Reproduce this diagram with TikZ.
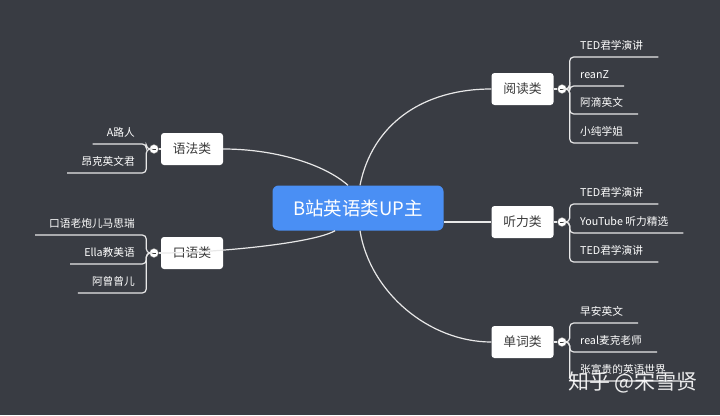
\documentclass[tikz,border=0pt]{standalone}
\usepackage{fontspec}
\setmainfont{Noto Sans CJK SC}
\usetikzlibrary{positioning}
\definecolor{bgdark}{HTML}{393C43}
\definecolor{hubblue}{HTML}{4A8FF4}
\definecolor{inkgray}{HTML}{3A3A3A}
\definecolor{linewhite}{HTML}{E8E8E8}

\begin{document}
\begin{tikzpicture}[x=1pt,y=-1pt]
\tikzset{hub/.style = {shape=rectangle,rounded corners=6pt,fill=hubblue,text=white,minimum width=171pt,minimum height=45pt,font=\fontsize{18.5}{20}\selectfont}}
\tikzset{branch/.style = {shape=rectangle,rounded corners=3pt,fill=white,text=inkgray,minimum width=62pt,minimum height=32pt,font=\fontsize{12.8}{14}\selectfont}}
\tikzset{leaf/.style = {text=white,inner xsep=15pt,inner ysep=5pt,text height=8pt,text depth=2pt,font=\fontsize{10.7}{12}\selectfont}}
\tikzset{fold/.style = {shape=circle,draw=gray,fill=white,minimum size=9pt,inner sep=0pt,
  path picture={\draw[inkgray,line width=0.9pt] ([xshift=-2.2pt]path picture bounding box.center) -- ([xshift=2.2pt]path picture bounding box.center);}}}
\tikzset{edge/.style = {draw=linewhite,line width=1.2pt}}
\tikzset{stem/.style = {draw=linewhite,line width=1.2pt,rounded corners=4pt}}

\fill[bgdark] (0,0) rectangle (720,415);

% main topics
\node[hub] (root) at (358,208) {B站英语类UP主};
\node[branch] (read) at (522.5,89) {阅读类};
\node[branch] (listen) at (522.5,222) {听力类};
\node[branch] (word) at (522.5,342) {单词类};
\node[branch] (gram) at (192,149) {语法类};
\node[branch] (speak) at (192,253) {口语类};

\draw[edge] ([xshift=2pt]root.north) .. controls +(12,-60) and +(-70,0) .. (read.west);
\draw[edge] (root.east |- listen.west) -- (listen.west);
\draw[edge] ([xshift=2pt]root.south) .. controls +(10,62) and +(-62,0) .. (word.west);
\draw[edge] ([xshift=-10pt]root.north) .. controls +(-25,-22) and +(50,0) .. (gram.east);
\draw[edge] ([xshift=-23pt]root.south) .. controls +(-22,13) and +(50,0) .. (speak.west);

% fold marks
\node[fold] (fr) at (562,89) {};
\node[fold] (fl) at (562,222) {};
\node[fold] (fw) at (562,342) {};
\node[fold] (fg) at (154,149) {};
\node[fold] (fs) at (154,253) {};
\draw[edge] (read.east) -- (fr);
\draw[edge] (listen.east) -- (fl);
\draw[edge] (word.east) -- (fw);
\draw[edge] (gram.west) -- (fg);
\draw[edge] (speak.west) -- (fs);

% leaves
\node[leaf,anchor=south west] (r1) at (565,57) {TED君学演讲};
\node[leaf,anchor=south west] (r2) at (565,86) {reanZ};
\node[leaf,anchor=south west] (r3) at (565,114) {阿滴英文};
\node[leaf,anchor=south west] (r4) at (565,143) {小纯学姐};

\node[leaf,anchor=south west] (l1) at (565,204) {TED君学演讲};
\node[leaf,anchor=south west] (l2) at (565,233) {YouTube 听力精选};
\node[leaf,anchor=south west] (l3) at (565,262) {TED君学演讲};

\node[leaf,anchor=south west] (w1) at (565,323) {早安英文};
\node[leaf,anchor=south west] (w2) at (565,352) {real麦克老师};
\node[leaf,anchor=south west] (w3) at (565,381) {张富贵的英语世界};

\node[leaf,anchor=south east,inner xsep=14pt] (g1) at (149,144) {A路人};
\node[leaf,anchor=south east,inner xsep=14pt] (g2) at (149,173) {昂克英文君};

\node[leaf,anchor=south east,inner xsep=14pt] (s1) at (149,235) {口语老炮儿马思瑞};
\node[leaf,anchor=south east,inner xsep=14pt] (s2) at (149,264) {Ella教美语};
\node[leaf,anchor=south east,inner xsep=14pt] (s3) at (149,293) {阿曾曾儿};

\draw[stem] (fr.east) -- ++(3,0) |- (r1.south east);
\draw[stem] (fr.east) -- ++(3,0) |- (r2.south east);
\draw[stem] (fr.east) -- ++(3,0) |- (r3.south east);
\draw[stem] (fr.east) -- ++(3,0) |- (r4.south east);

\draw[stem] (fl.east) -- ++(3,0) |- (l1.south east);
\draw[stem] (fl.east) -- ++(3,0) |- (l2.south east);
\draw[stem] (fl.east) -- ++(3,0) |- (l3.south east);

\draw[stem] (fw.east) -- ++(3,0) |- (w1.south east);
\draw[stem] (fw.east) -- ++(3,0) |- (w2.south east);
\draw[stem] (fw.east) -- ++(3,0) |- (w3.south east);

\draw[stem] (fg.west) -- ++(-3,0) |- (g1.south west);
\draw[stem] (fg.west) -- ++(-3,0) |- (g2.south west);

\draw[stem] (fs.west) -- ++(-3,0) |- (s1.south west);
\draw[stem] (fs.west) -- ++(-3,0) |- (s2.south west);
\draw[stem] (fs.west) -- ++(-3,0) |- (s3.south west);

% watermark
\node[text=white,opacity=0.9,font=\fontsize{21}{24}\selectfont] (mark) at (633,382) {知乎 @宋雪贤};
\end{tikzpicture}
\end{document}
